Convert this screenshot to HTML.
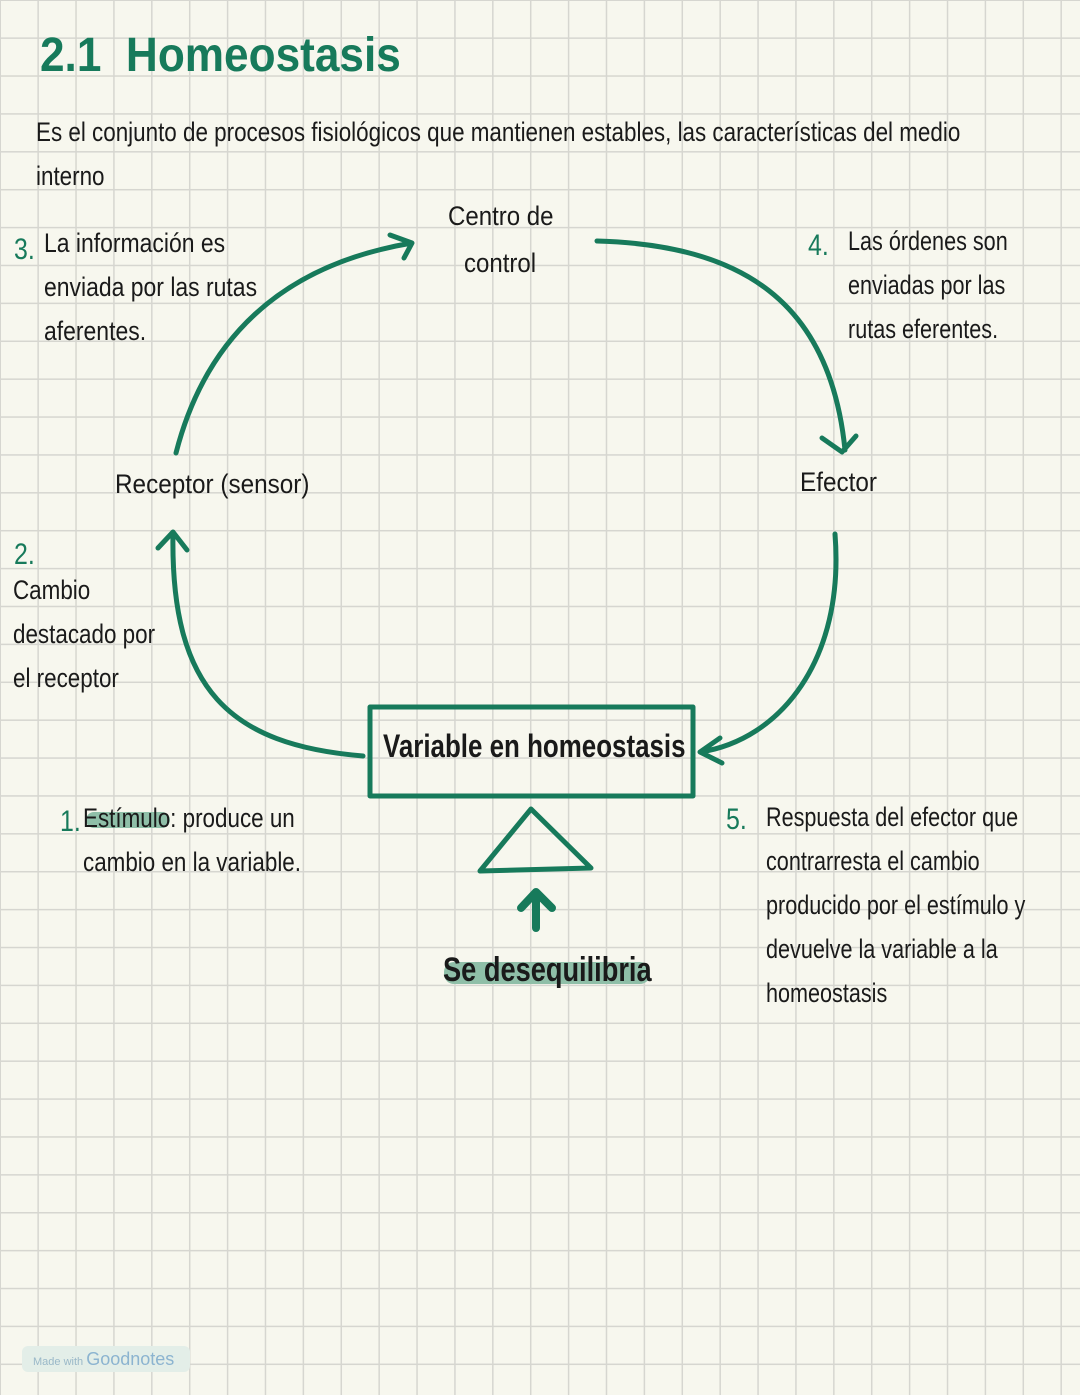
<!DOCTYPE html>
<html><head><meta charset="utf-8"><style>
html,body{margin:0;padding:0}
body{width:1080px;height:1395px;position:relative;overflow:hidden;background-color:#f7f7ee;
background-image:linear-gradient(to right,#d6d6d0 1.5px,transparent 1.5px),linear-gradient(to bottom,#d6d6d0 1.5px,transparent 1.5px);
background-size:37.9px 37.9px;background-position:-0.5px -0.5px;
font-family:"Liberation Sans",sans-serif;color:#1a1a1a}
.t{position:absolute;font-size:27px;line-height:44px;white-space:nowrap;transform-origin:0 0;transform:scaleX(0.83)}
.g{color:#177a5b}
svg{position:absolute;left:0;top:0}
</style></head><body>
<div class="t g" style="left:40px;top:26px;font-size:48px;line-height:60px;font-weight:bold;transform:scaleX(0.92)">2.1&nbsp; Homeostasis</div>
<div class="t" style="left:36px;top:110px">Es el conjunto de procesos fisiológicos que mantienen estables, las características del medio<br>interno</div>
<div class="t" style="left:448px;top:194px;transform:scaleX(0.89)">Centro de</div>
<div class="t" style="left:464px;top:241px;transform:scaleX(0.89)">control</div>
<div class="t g" style="left:14px;top:228px;font-size:30px">3.</div>
<div class="t" style="left:44px;top:221px;transform:scaleX(0.85)">La información es<br>enviada por las rutas<br>aferentes.</div>
<div class="t g" style="left:808px;top:224px;font-size:30px">4.</div>
<div class="t" style="left:848px;top:219px;transform:scaleX(0.8)">Las órdenes son<br>enviadas por las<br>rutas eferentes.</div>
<div class="t" style="left:115px;top:462px;transform:scaleX(0.9)">Receptor (sensor)</div>
<div class="t" style="left:800px;top:460px;transform:scaleX(0.9)">Efector</div>
<div class="t g" style="left:14px;top:533px;font-size:30px">2.</div>
<div class="t" style="left:13px;top:568px">Cambio<br>destacado por<br>el receptor</div>
<div class="t g" style="left:60px;top:800px;font-size:30px">1.</div>
<div style="position:absolute;left:86px;top:812px;width:84px;height:16px;background:#8fbfa8;border-radius:8px"></div>
<div class="t" style="left:83px;top:796px;transform:scaleX(0.83)">Estímulo: produce un<br>cambio en la variable.</div>
<div class="t g" style="left:726px;top:798px;font-size:30px">5.</div>
<div class="t" style="left:766px;top:795px;transform:scaleX(0.8)">Respuesta del efector que<br>contrarresta el cambio<br>producido por el estímulo y<br>devuelve la variable a la<br>homeostasis</div>
<div class="t" style="left:383px;top:724px;font-size:32px;font-weight:bold;transform:scaleX(0.81)">Variable en homeostasis</div>
<div style="position:absolute;left:444px;top:962px;width:206px;height:22px;background:#8fbfa8;border-radius:10px"></div>
<div class="t" style="left:443px;top:948px;font-size:34px;font-weight:bold;transform:scaleX(0.8)">Se desequilibria</div>
<div style="position:absolute;left:22px;top:1346px;width:168px;height:26px;background:#e3eee8;border-radius:6px"></div>
<div class="t" style="left:33px;top:1346px;font-size:11px;line-height:26px;color:#9ab8c8;transform:none">Made with <span style="font-size:18px;color:#8cb4d0">Goodnotes</span></div>
<svg width="1080" height="1395" fill="none" stroke="#177a5b" stroke-width="5" stroke-linecap="round" stroke-linejoin="round">
<rect x="370" y="707" width="323" height="89"/>
<path d="M480 871 L531 809 L591 868 Z"/>
<path d="M536 928 V892 M521 908 L536 892 L552 908" stroke-width="8"/>
<path d="M176 453 C205 340 280 265 412 243 M390 235 L412 243 L404 258"/>
<path d="M597 241 C740 245 830 300 845 450 M822 438 L842 452 L856 436"/>
<path d="M835 534 C845 660 780 740 700 752 M720 738 L700 752 L722 763"/>
<path d="M363 756 C230 745 170 690 173 532 M158 548 L173 532 L187 550"/>
</svg>
</body></html>
